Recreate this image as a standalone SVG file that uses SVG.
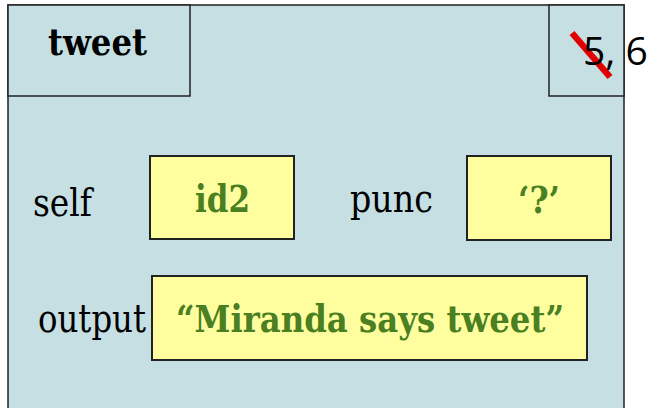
<svg xmlns="http://www.w3.org/2000/svg" width="647" height="408" viewBox="0 0 647 408">
<style>
.frame{fill:#c5dfe3;stroke:#222;stroke-width:1.5}
.val{fill:#fffe9e;stroke:#222;stroke-width:2}
.lbl{font-family:"DejaVu Serif Condensed","DejaVu Serif",serif;font-stretch:condensed;font-size:40px;fill:#000}
.v{font-family:"DejaVu Serif Condensed","DejaVu Serif",serif;font-stretch:condensed;font-weight:bold;font-size:38px;fill:#4a7f22}
</style>
<rect width="647" height="408" fill="#fff"/>
<g id="frame">
<rect class="frame" x="8" y="5" width="616" height="420"/>
</g>
<g id="title">
<rect class="frame" x="8" y="5" width="182" height="91"/>
<text x="48" y="55" font-family="DejaVu Serif Condensed,DejaVu Serif,serif" font-stretch="condensed" font-weight="bold" font-size="37" textLength="99" lengthAdjust="spacingAndGlyphs">tweet</text>
</g>
<g id="counter">
<rect class="frame" x="549" y="5" width="75" height="91"/>
<line x1="572" y1="33" x2="610" y2="77" stroke="#e00000" stroke-width="6.5"/>
<text x="583" y="65" font-family="Open Sans,Liberation Sans,sans-serif" font-size="39">5, 6</text>
</g>
<g id="self">
<text class="lbl" x="33" y="216" textLength="59" lengthAdjust="spacingAndGlyphs" font-size="42">self</text>
<rect class="val" x="150" y="156" width="144" height="83"/>
<text class="v" x="195" y="212" textLength="55" lengthAdjust="spacingAndGlyphs">id2</text>
</g>
<g id="punc">
<text class="lbl" x="350" y="212" textLength="83" lengthAdjust="spacingAndGlyphs">punc</text>
<rect class="val" x="467" y="156" width="144" height="84"/>
<text class="v" x="518" y="213" textLength="42" lengthAdjust="spacingAndGlyphs">‘?’</text>
</g>
<g id="output">
<text class="lbl" x="38" y="332" textLength="108" lengthAdjust="spacingAndGlyphs">output</text>
<rect class="val" x="152" y="276" width="435" height="84"/>
<text class="v" x="176" y="332" textLength="388" lengthAdjust="spacingAndGlyphs">“Miranda says tweet”</text>
</g>
<g id="connectors"/>
</svg>
